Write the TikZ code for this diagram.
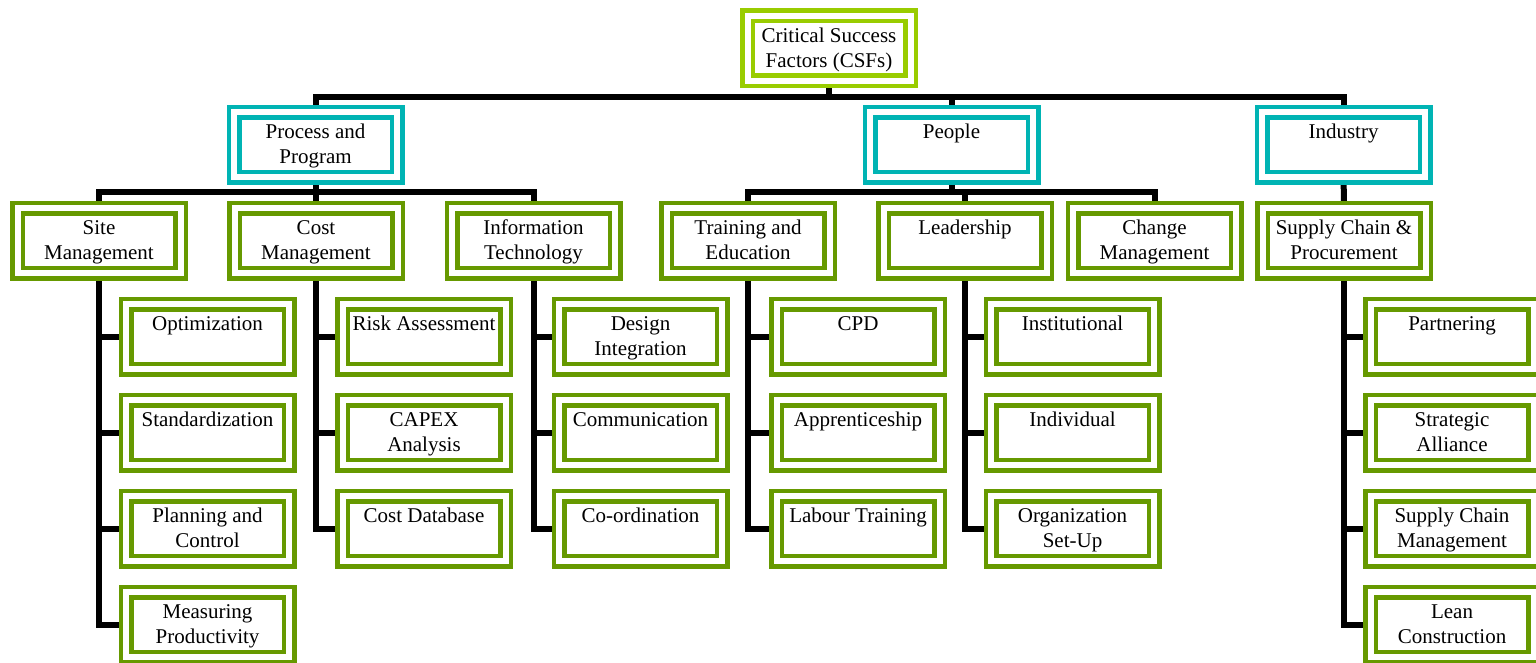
\documentclass[tikz,border=0pt]{standalone}
\usepackage{fontspec}
\setmainfont{Liberation Serif}
\usetikzlibrary{backgrounds}
\definecolor{tealc}{RGB}{0,180,180}
\definecolor{rootg}{RGB}{153,204,0}
\definecolor{leafg}{RGB}{102,153,0}
\newcommand{\bxt}[1]{\parbox[c][65pt][t]{163pt}{\fontsize{21}{25}\selectfont\centering\rule{0pt}{26.5pt}#1}}
\tikzset{
  box/.style={draw=#1, double=white, line width=4.5pt, double distance=6pt, fill=white, inner sep=0pt},
  conn/.style={line width=6pt, draw=black}
}
\begin{document}
\begin{tikzpicture}[x=1pt,y=-1pt]
\useasboundingbox (0,0) rectangle (1536,662);
% root and level 2
\node[box=rootg] (root) at (829,48) {\bxt{Critical Success\\Factors (CSFs)}};
\node[box=tealc] (pp) at (315.5,144.5) {\bxt{Process and\\Program}};
\node[box=tealc] (ppl) at (951.5,144.5) {\bxt{People}};
\node[box=tealc] (ind) at (1343.5,144.5) {\bxt{Industry}};
% level 3
\node[box=leafg] (site) at (99,240.5) {\bxt{Site\\Management}};
\node[box=leafg] (cost) at (316,240.5) {\bxt{Cost\\Management}};
\node[box=leafg] (it) at (533.5,240.5) {\bxt{Information\\Technology}};
\node[box=leafg] (train) at (748,240.5) {\bxt{Training and\\Education}};
\node[box=leafg] (lead) at (965,240.5) {\bxt{Leadership}};
\node[box=leafg] (chg) at (1154.5,240.5) {\bxt{Change\\Management}};
\node[box=leafg] (sup) at (1344,240.5) {\bxt{Supply Chain \&\\Procurement}};
% level 4
\node[box=leafg] (s1) at (207.5,336.5) {\bxt{Optimization}};
\node[box=leafg] (s2) at (207.5,432.5) {\bxt{Standardization}};
\node[box=leafg] (s3) at (207.5,528.5) {\bxt{Planning and\\Control}};
\node[box=leafg] (s4) at (207.5,624.5) {\bxt{Measuring\\Productivity}};
\node[box=leafg] (c1) at (424,336.5) {\bxt{Risk Assessment}};
\node[box=leafg] (c2) at (424,432.5) {\bxt{CAPEX\\Analysis}};
\node[box=leafg] (c3) at (424,528.5) {\bxt{Cost Database}};
\node[box=leafg] (i1) at (640.5,336.5) {\bxt{Design\\Integration}};
\node[box=leafg] (i2) at (640.5,432.5) {\bxt{Communication}};
\node[box=leafg] (i3) at (640.5,528.5) {\bxt{Co-ordination}};
\node[box=leafg] (t1) at (858,336.5) {\bxt{CPD}};
\node[box=leafg] (t2) at (858,432.5) {\bxt{Apprenticeship}};
\node[box=leafg] (t3) at (858,528.5) {\bxt{Labour Training}};
\node[box=leafg] (l1) at (1072.5,336.5) {\bxt{Institutional}};
\node[box=leafg] (l2) at (1072.5,432.5) {\bxt{Individual}};
\node[box=leafg] (l3) at (1072.5,528.5) {\bxt{Organization\\Set-Up}};
\node[box=leafg] (p1) at (1452,336.5) {\bxt{Partnering}};
\node[box=leafg] (p2) at (1452,432.5) {\bxt{Strategic\\Alliance}};
\node[box=leafg] (p3) at (1452,528.5) {\bxt{Supply Chain\\Management}};
\node[box=leafg] (p4) at (1452,624.5) {\bxt{Lean\\Construction}};
\begin{scope}[on background layer]
\coordinate (b1) at (0,97);
\coordinate (b2) at (0,192);
\draw[conn] (root.center) -- (root |- b1);
\draw[conn] (pp.center) |- (ind |- b1) -- (ind.center);
\draw[conn] (ppl.center) -- (ppl |- b1);
\draw[conn] (pp.center) -- (pp |- b2);
\draw[conn] (site.center) |- (it |- b2) -- (it.center);
\draw[conn] (cost.center) -- (cost |- b2);
\draw[conn] (ppl.center) -- (ppl |- b2);
\draw[conn] (train.center) |- (chg |- b2) -- (chg.center);
\draw[conn] (lead.center) -- (lead |- b2);
\draw[conn] (ind.center) -- (sup.center);
% leaves
\draw[conn] (site.center) |- (s4.center);
\draw[conn] (site |- s1) -- (s1.center);
\draw[conn] (site |- s2) -- (s2.center);
\draw[conn] (site |- s3) -- (s3.center);
\draw[conn] (cost.center) |- (c3.center);
\draw[conn] (cost |- c1) -- (c1.center);
\draw[conn] (cost |- c2) -- (c2.center);
\draw[conn] (it.center) |- (i3.center);
\draw[conn] (it |- i1) -- (i1.center);
\draw[conn] (it |- i2) -- (i2.center);
\draw[conn] (train.center) |- (t3.center);
\draw[conn] (train |- t1) -- (t1.center);
\draw[conn] (train |- t2) -- (t2.center);
\draw[conn] (lead.center) |- (l3.center);
\draw[conn] (lead |- l1) -- (l1.center);
\draw[conn] (lead |- l2) -- (l2.center);
\draw[conn] (sup.center) |- (p4.center);
\draw[conn] (sup |- p1) -- (p1.center);
\draw[conn] (sup |- p2) -- (p2.center);
\draw[conn] (sup |- p3) -- (p3.center);
\end{scope}
\end{tikzpicture}
\end{document}
